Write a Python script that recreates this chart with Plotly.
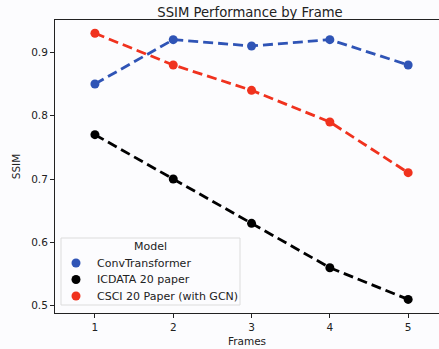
import plotly.graph_objects as go

# SSIM scores per frame for each model
frames = [1, 2, 3, 4, 5]
conv_transformer = [0.85, 0.92, 0.91, 0.92, 0.88]
icdata_20 = [0.77, 0.70, 0.63, 0.56, 0.51]
csci_20_gcn = [0.93, 0.88, 0.84, 0.79, 0.71]

series_names = ["ConvTransformer", "ICDATA 20 paper", "CSCI 20 Paper (with GCN)"]
series_values = [conv_transformer, icdata_20, csci_20_gcn]
series_colors = ["#2f54b6", "#000000", "#f0321e"]

x_ticks = [1, 2, 3, 4, 5]
y_ticks = [0.5, 0.6, 0.7, 0.8, 0.9]

FONT = "DejaVu Sans"
W, H = 439, 349
ML, MR, MT, MB = 55, 0, 20, 36
PW, PH = W - ML - MR, H - MT - MB


def px_x(p):
    """pixel column -> paper x"""
    return (p - ML) / PW


def px_y(p):
    """pixel row -> paper y"""
    return (H - MB - p) / PH


fig = go.Figure()

for name, vals, col in zip(series_names, series_values, series_colors):
    fig.add_trace(go.Scatter(
        x=frames, y=vals, mode="lines+markers", name=name,
        line=dict(color=col, width=2.8, dash="10px,5px"),
        marker=dict(color=col, size=9),
        showlegend=False,
    ))

# hand-built legend box: title, colour dots and labels
shapes = [dict(
    type="rect", xref="paper", yref="paper",
    x0=px_x(61), x1=px_x(240), y0=px_y(305), y1=px_y(238),
    line=dict(color="#dcdcdc", width=1), fillcolor="rgba(252,252,254,0.85)",
    layer="above",
)]
annotations = [dict(
    text="Model", xref="paper", yref="paper",
    x=px_x(150), y=px_y(246), xanchor="center", yanchor="middle",
    showarrow=False, font=dict(family=FONT, size=11, color="#222222"),
)]
row_y = [263, 279.5, 296]
for name, col, ry in zip(series_names, series_colors, row_y):
    shapes.append(dict(
        type="circle", xref="paper", yref="paper",
        xsizemode="pixel", ysizemode="pixel",
        xanchor=px_x(76), yanchor=px_y(ry),
        x0=-4.5, x1=4.5, y0=-4.5, y1=4.5,
        fillcolor=col, line=dict(width=0), layer="above",
    ))
    annotations.append(dict(
        text=name, xref="paper", yref="paper",
        x=px_x(95), y=px_y(ry), xanchor="left", yanchor="middle",
        showarrow=False, font=dict(family=FONT, size=11, color="#222222"),
    ))

fig.update_layout(
    width=W, height=H,
    margin=dict(l=ML, r=MR, t=MT, b=MB),
    paper_bgcolor="#fcfcfe", plot_bgcolor="#fcfcfe",
    font=dict(family=FONT, size=10.5, color="#222222"),
    showlegend=False,
    shapes=shapes,
    annotations=annotations,
    title=dict(
        text="SSIM Performance by Frame",
        x=250 / W, xref="container", xanchor="center",
        y=1 - 12 / H, yref="container", yanchor="middle",
        font=dict(family=FONT, size=13.2, color="#222222"),
    ),
    xaxis=dict(
        range=[0.49, 5.394], tickvals=x_ticks, ticktext=[str(v) for v in x_ticks],
        showgrid=False, zeroline=False,
        showline=True, linecolor="#222222", linewidth=1, mirror=True,
        ticks="outside", ticklen=4, tickcolor="#222222",
        title=dict(text="Frames", standoff=6, font=dict(size=10.5)),
    ),
    yaxis=dict(
        range=[0.4885, 0.951], tickvals=y_ticks, ticktext=[f"{v:.1f}" for v in y_ticks],
        showgrid=False, zeroline=False,
        showline=True, linecolor="#222222", linewidth=1,
        ticks="outside", ticklen=4, tickcolor="#222222",
        title=dict(text="SSIM", standoff=8, font=dict(size=10.5)),
    ),
)

fig.write_html("out.html")
